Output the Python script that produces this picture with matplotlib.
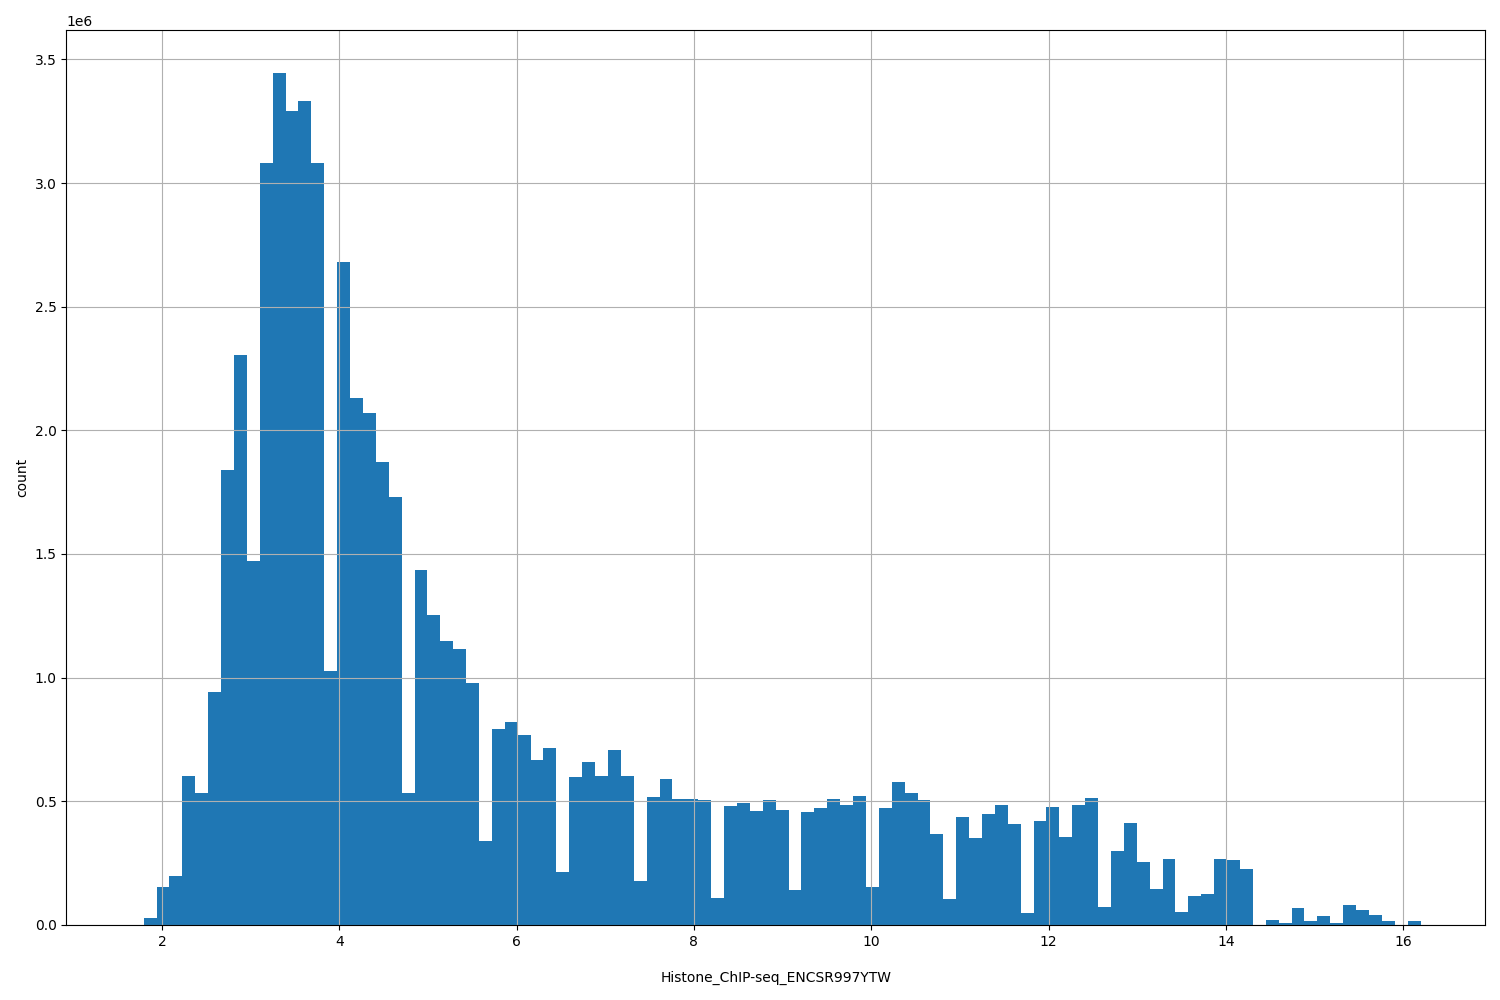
import numpy as np
import matplotlib
matplotlib.use("Agg")
import matplotlib.pyplot as plt


# -----------------------------------------------------------
# Histogram data (counts in millions)
# -----------------------------------------------------------
column = "Histone_ChIP-seq_ENCSR997YTW"
bin_lo = 1.649
bin_hi = 16.195
n_bins = 100

counts_m = [
    0.0001, 0.028, 0.153, 0.199, 0.602, 0.535, 0.940, 1.838, 2.303, 1.470,
    3.081, 3.446, 3.290, 3.330, 3.080, 1.028, 2.682, 2.132, 2.072, 1.870,
    1.729, 0.535, 1.435, 1.253, 1.147, 1.114, 0.977, 0.339, 0.794, 0.819,
    0.766, 0.665, 0.714, 0.215, 0.597, 0.657, 0.601, 0.706, 0.601, 0.179,
    0.516, 0.589, 0.508, 0.508, 0.504, 0.110, 0.480, 0.493, 0.460, 0.507,
    0.464, 0.142, 0.456, 0.472, 0.508, 0.484, 0.520, 0.153, 0.472, 0.577,
    0.532, 0.504, 0.367, 0.106, 0.435, 0.351, 0.448, 0.484, 0.407, 0.048,
    0.419, 0.476, 0.355, 0.484, 0.512, 0.073, 0.298, 0.411, 0.256, 0.147,
    0.265, 0.053, 0.118, 0.126, 0.265, 0.261, 0.228, 0.0001, 0.020, 0.008,
    0.069, 0.016, 0.037, 0.008, 0.082, 0.061, 0.041, 0.016, 0.0001, 0.016,
]


edges = np.linspace(bin_lo, bin_hi, n_bins + 1)
centers = (edges[:-1] + edges[1:]) / 2
counts = np.array(counts_m) * 1e6

fig, ax = plt.subplots(figsize=(15, 10), dpi=100)

ax.hist(centers, bins=edges, weights=counts, color="#1f77b4")
ax.grid(True)

ax.set_xlabel(column, labelpad=16)
ax.set_ylabel("count")

fig.tight_layout()
fig.savefig("out.png", dpi=100)
